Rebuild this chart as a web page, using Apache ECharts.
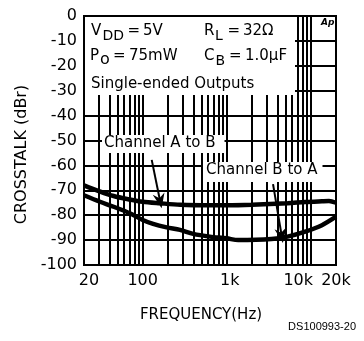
<!DOCTYPE html>
<html>
<head>
<meta charset="utf-8">
<script src="https://cdn.jsdelivr.net/npm/echarts@6/dist/echarts.min.js"></script>
<style>
  html, body { margin: 0; padding: 0; background: #fff; }
  #main { width: 364px; height: 341px; }
</style>
</head>
<body>
<div id="main"></div>
<script>
// curve A to B (upper)
var freqA = [20, 30, 45, 70, 100, 160, 280, 630, 1000, 2000, 5300, 8600, 13600, 16500, 20000];
var crossA = [-68, -70.3, -72.3, -73.7, -74.6, -75.2, -75.8, -76, -76, -75.8, -75.2, -74.7, -74.4, -74.3, -75];
// curve B to A (lower)
var freqB = [20, 31, 45, 70, 100, 133, 193, 278, 400, 630, 1000, 1370, 3400, 5300, 8600, 13600, 20000];
var crossB = [-72, -74.6, -76.6, -79.2, -81.9, -83.5, -84.9, -85.9, -87.5, -88.6, -89.3, -90, -89.6, -88.6, -86.6, -84, -80.6];
// x tick labels
var xTicks = [20, 100, 1000, 10000, 20000];
// vertical grid lines
var gridFreqs = [30, 40, 50, 60, 70, 80, 90, 100, 200, 300, 400, 500, 600, 700, 800, 900,
                 1000, 2000, 3000, 4000, 5000, 6000, 7000, 8000, 9000, 10000];
// arrows [from, to] as [freq, dB]
var arrowAB = [[128, -57.8], [161, -74.3]];
var arrowBA = [[3560, -67.5], [4510, -88.2]];

var chart = echarts.init(document.getElementById('main'));
var font = 'DejaVu Sans';

function pairs(xs, ys) {
    return xs.map(function (x, i) { return [x, ys[i]]; });
}

function fmtFreq(v) {
    v = Math.round(v);
    var s = v >= 1000 ? (v / 1000) + 'k' : String(v);
    // nudge labels the way the original sheet set them
    if (v === 20) return '{r|' + s + '}';
    if (v === 1000) return '{k|' + s + '}';
    if (v === 10000) return '{l|' + s + '}';
    return s;
}

// small helper for the condition box texts
function txt(s, x, y, size) {
    return { type: 'text', z: 11, style: { text: s, x: x, y: y, font: (size || 15) + 'px ' + font,
        fill: '#000', verticalAlign: 'middle' } };
}

var option = {
    animation: false,
    grid: {
        left: 84, right: 28, top: 16, bottom: 76,
        show: true, borderColor: '#000', borderWidth: 2
    },
    xAxis: {
        type: 'log',
        logBase: 10,
        min: 20,
        max: 20000,
        name: 'FREQUENCY(Hz)',
        nameLocation: 'middle',
        nameGap: 43,
        nameTextStyle: { color: '#000', fontSize: 15, fontFamily: font, padding: [0, 18, 0, 0] },
        axisLine: { lineStyle: { color: '#000', width: 2 } },
        axisTick: { show: false },
        splitLine: { show: false },
        axisLabel: {
            customValues: xTicks,
            showMinLabel: true,
            showMaxLabel: true,
            color: '#000', fontSize: 16, fontFamily: font, margin: 8,
            formatter: fmtFreq,
            rich: {
                r: { fontSize: 16, fontFamily: font, color: '#000', padding: [0, 0, 0, 10] },
                k: { fontSize: 16, fontFamily: font, color: '#000', padding: [0, 0, 0, 6] },
                l: { fontSize: 16, fontFamily: font, color: '#000', padding: [0, 25, 0, 0] }
            }
        }
    },
    yAxis: {
        type: 'value',
        min: -100,
        max: 0,
        interval: 10,
        name: 'CROSSTALK (dBr)',
        nameLocation: 'middle',
        nameGap: 54,
        nameTextStyle: { color: '#000', fontSize: 16, fontFamily: font, padding: [0, 28, 0, 0] },
        axisLine: { show: true, lineStyle: { color: '#000', width: 2 } },
        axisTick: { show: false },
        splitLine: { lineStyle: { color: '#000', width: 2 } },
        axisLabel: { color: '#000', fontSize: 16, fontFamily: font, margin: 7 }
    },
    series: [
        {
            name: 'Channel A to B',
            type: 'line',
            data: pairs(freqA, crossA),
            smooth: 0.3,
            showSymbol: false,
            lineStyle: { color: '#000', width: 4.5 },
            z: 3,
            markLine: {
                silent: true,
                symbol: 'none',
                label: { show: false },
                lineStyle: { color: '#000', width: 2, type: 'solid' },
                data: gridFreqs.map(function (f) { return { xAxis: f }; })
            }
        },
        {
            name: 'Channel B to A',
            type: 'line',
            data: pairs(freqB, crossB),
            smooth: 0.3,
            showSymbol: false,
            lineStyle: { color: '#000', width: 4.5 },
            z: 3,
            markLine: {
                silent: true,
                symbol: ['none', 'path://M5 0 L10 13 L5 9 L0 13 Z'],
                symbolSize: [12, 15],
                label: { show: false },
                lineStyle: { color: '#000', width: 2, type: 'solid' },
                data: [
                    [{ coord: arrowAB[0] }, { coord: arrowAB[1] }],
                    [{ coord: arrowBA[0] }, { coord: arrowBA[1] }]
                ]
            }
        }
    ],
    graphic: [
        { type: 'rect', z: 10, shape: { x: 85, y: 17, width: 210, height: 78 }, style: { fill: '#fff' } },
        txt('V', 91, 31), txt('DD', 102.5, 36.5, 14), txt('=', 127.5, 31), txt('5V', 143, 31),
        txt('R', 204, 31), txt('L', 215, 36.5, 14), txt('=', 227.5, 31), txt('32\u03A9', 243, 31),
        txt('P', 90, 56), txt('o', 100, 59.5, 16), txt('=', 113, 56.5), txt('75mW', 129, 56),
        txt('C', 204, 56), txt('B', 215.5, 61, 14), txt('=', 229, 56.5), txt('1.0\u03BCF', 245, 56),
        txt('Single-ended Outputs', 91, 84),
        { type: 'text', z: 11, style: { text: 'Ap', x: 321, y: 23, font: 'italic bold 9px ' + font, fill: '#000', verticalAlign: 'middle' } },
        { type: 'text', z: 11, style: { text: 'Channel A to B', x: 102, y: 135, font: '15px ' + font, fill: '#000',
            backgroundColor: '#fff', padding: [1, 9, 2, 2], verticalAlign: 'top' } },
        { type: 'text', z: 11, style: { text: 'Channel B to A', x: 203, y: 162, font: '15px ' + font, fill: '#000',
            backgroundColor: '#fff', padding: [1, 5, 4, 3], verticalAlign: 'top' } },
        { type: 'text', z: 11, style: { text: 'DS100993-20', x: 356, y: 327, font: '11px Liberation Sans', fill: '#000',
            align: 'right', verticalAlign: 'middle' } }
    ]
};

chart.setOption(option);
</script>
</body>
</html>
